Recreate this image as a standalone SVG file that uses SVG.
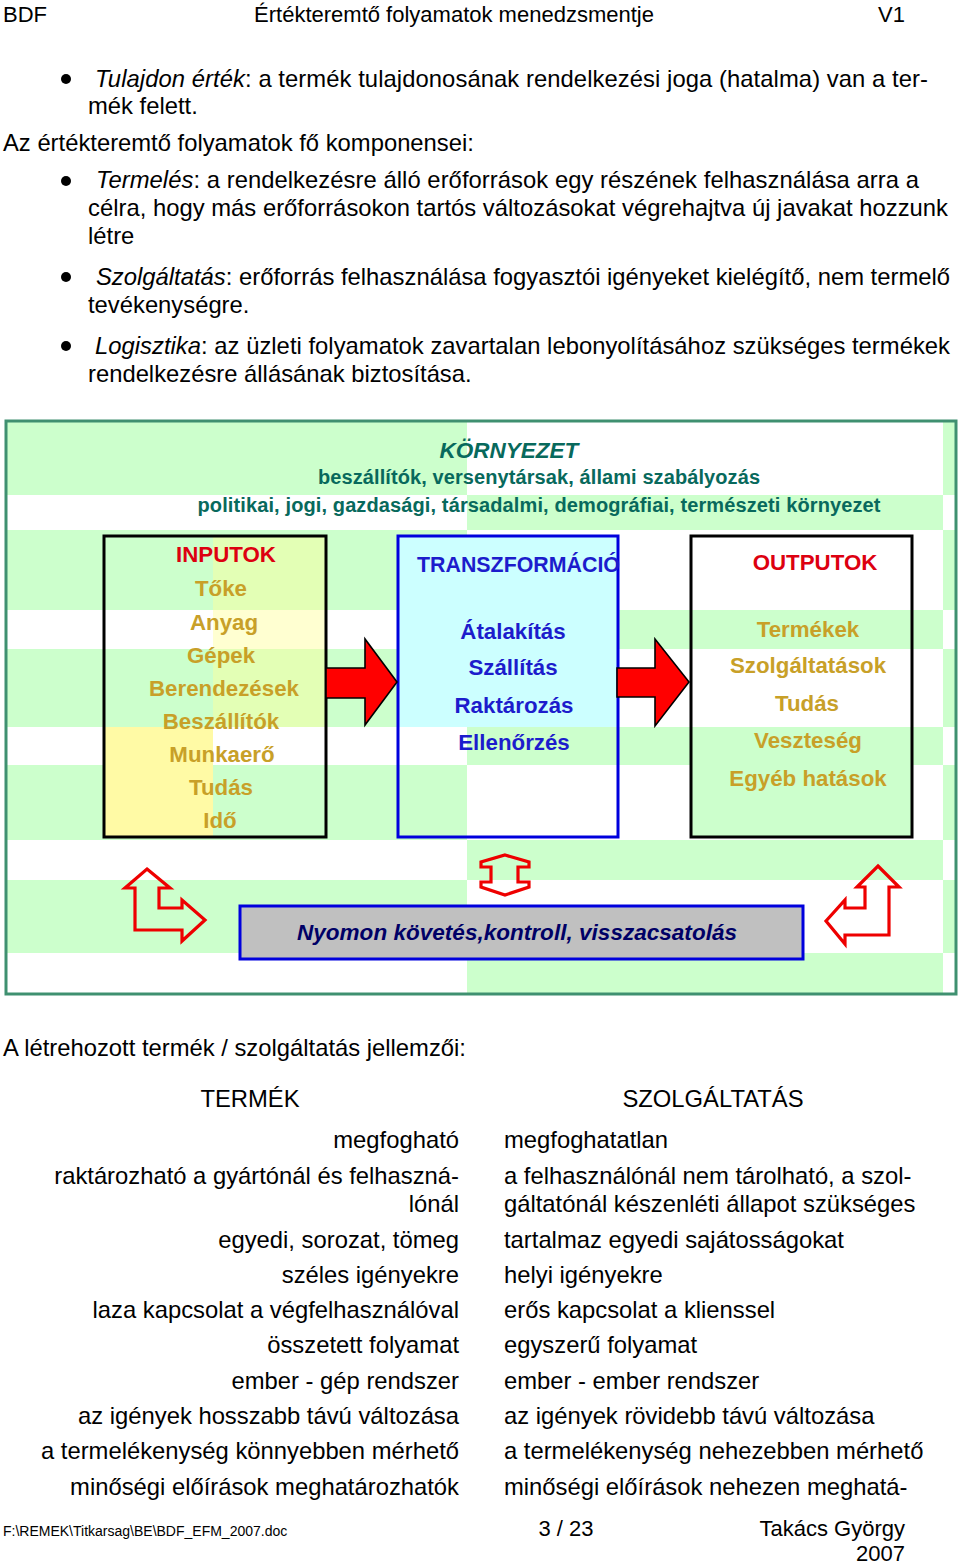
<svg xmlns="http://www.w3.org/2000/svg" width="960" height="1564" viewBox="0 0 960 1564">
<style>
.t{font-family:"Liberation Sans",Arial,sans-serif;font-size:23.8px;fill:#000}
.h{font-family:"Liberation Sans",Arial,sans-serif;font-size:22px;fill:#000}
.i{font-style:italic}
.env{font-family:"Liberation Sans",Arial,sans-serif;font-weight:bold;fill:#08695c;text-anchor:middle}
.bx{font-family:"Liberation Sans",Arial,sans-serif;font-weight:bold;font-size:22.3px;text-anchor:middle}
.bxs{font-family:"Liberation Sans",Arial,sans-serif;font-weight:bold;font-size:22.3px;text-anchor:start}
.red{fill:#dd0010}
.gold{fill:#c8a028}
.blu{fill:#1c1ccc}
.g{fill:#ccffcc}
.r{text-anchor:end}
.m{text-anchor:middle}
.barrow{fill:#ff0000;stroke:#000;stroke-width:1.6;stroke-linejoin:miter}
.farrow{fill:none;stroke:#ee0000;stroke-width:3.2;stroke-linejoin:miter}
</style>

<!-- Header -->
<g id="header">
<text class="h" x="3" y="22">BDF</text>
<text class="h m" x="454" y="22">Értékteremtő folyamatok menedzsmentje</text>
<text class="h" x="878" y="22">V1</text>
</g>

<!-- Body text -->
<g id="body">
<circle cx="66" cy="79" r="5"/>
<text class="t" x="95" y="87" textLength="833" lengthAdjust="spacing"><tspan class="i">Tulajdon érték</tspan>: a termék tulajdonosának rendelkezési joga (hatalma) van a ter-</text>
<text class="t" x="88" y="114">mék felett.</text>
<text class="t" x="3" y="151">Az értékteremtő folyamatok fő komponensei:</text>
<circle cx="66" cy="181" r="5"/>
<text class="t" x="96" y="188" textLength="823" lengthAdjust="spacing"><tspan class="i">Termelés</tspan>: a rendelkezésre álló erőforrások egy részének felhasználása arra a</text>
<text class="t" x="88" y="216" textLength="860" lengthAdjust="spacing">célra, hogy más erőforrásokon tartós változásokat végrehajtva új javakat hozzunk</text>
<text class="t" x="88" y="244">létre</text>
<circle cx="66" cy="277" r="5"/>
<text class="t" x="96" y="285" textLength="854" lengthAdjust="spacing"><tspan class="i">Szolgáltatás</tspan>: erőforrás felhasználása fogyasztói igényeket kielégítő, nem termelő</text>
<text class="t" x="88" y="313">tevékenységre.</text>
<circle cx="66" cy="346" r="5"/>
<text class="t" x="95" y="354" textLength="855" lengthAdjust="spacing"><tspan class="i">Logisztika</tspan>: az üzleti folyamatok zavartalan lebonyolításához szükséges termékek</text>
<text class="t" x="88" y="382">rendelkezésre állásának biztosítása.</text>
</g>

<!-- Diagram background (checkerboard) -->
<g id="diagram-bg">
<rect x="7" y="422" width="948" height="571" fill="#fff"/>
<rect class="g" x="7" y="422" width="460" height="73"/>
<rect class="g" x="943" y="422" width="12" height="73"/>
<rect class="g" x="467" y="495" width="476" height="35"/>
<rect class="g" x="7" y="530" width="460" height="80"/>
<rect class="g" x="943" y="530" width="12" height="80"/>
<rect class="g" x="467" y="610" width="476" height="39"/>
<rect class="g" x="7" y="649" width="460" height="78"/>
<rect class="g" x="943" y="649" width="12" height="78"/>
<rect class="g" x="467" y="727" width="476" height="38"/>
<rect class="g" x="7" y="765" width="460" height="75"/>
<rect class="g" x="943" y="765" width="12" height="75"/>
<rect class="g" x="467" y="840" width="476" height="40"/>
<rect class="g" x="7" y="880" width="460" height="73"/>
<rect class="g" x="943" y="880" width="12" height="73"/>
<rect class="g" x="467" y="953" width="476" height="40"/>
<rect x="6" y="421" width="950" height="573" fill="none" stroke="#3f9070" stroke-width="3"/>
</g>

<g id="environment">
<text class="env" x="509" y="458" font-size="22.5" font-style="italic">KÖRNYEZET</text>
<text class="env" x="539" y="484" font-size="20" textLength="442" lengthAdjust="spacing">beszállítók, versenytársak, állami szabályozás</text>
<text class="env" x="539" y="512" font-size="20" textLength="683" lengthAdjust="spacing">politikai, jogi, gazdasági, társadalmi, demográfiai, természeti környezet</text>
</g>

<g id="inputok">
<rect x="213" y="536" width="113" height="191" fill="#ffff99" opacity="0.45"/>
<rect x="104" y="727" width="109" height="110" fill="#fffaa5"/>
<rect x="104" y="536" width="222" height="301" fill="none" stroke="#000" stroke-width="3"/>
<text class="bx red" x="226" y="562">INPUTOK</text>
<text class="bx gold" x="221" y="596">Tőke</text>
<text class="bx gold" x="224" y="630">Anyag</text>
<text class="bx gold" x="221" y="663">Gépek</text>
<text class="bx gold" x="224" y="696">Berendezések</text>
<text class="bx gold" x="221" y="729">Beszállítók</text>
<text class="bx gold" x="222" y="762">Munkaerő</text>
<text class="bx gold" x="221" y="795">Tudás</text>
<text class="bx gold" x="220" y="828">Idő</text>
</g>

<g id="transzformacio">
<rect x="398" y="536" width="220" height="191" fill="#ccffff"/>
<rect x="398" y="536" width="220" height="301" fill="none" stroke="#0000dd" stroke-width="3"/>
<text class="bxs blu" x="417" y="572" textLength="203" lengthAdjust="spacingAndGlyphs">TRANSZFORMÁCIÓ</text>
<text class="bx blu" x="513" y="639">Átalakítás</text>
<text class="bx blu" x="513" y="675">Szállítás</text>
<text class="bx blu" x="514" y="713">Raktározás</text>
<text class="bx blu" x="514" y="750">Ellenőrzés</text>
</g>

<g id="outputok">
<rect x="691" y="765" width="221" height="72" fill="#ccffcc"/>
<rect x="691" y="536" width="221" height="301" fill="none" stroke="#000" stroke-width="3"/>
<text class="bx red" x="815" y="570">OUTPUTOK</text>
<text class="bx gold" x="808" y="637">Termékek</text>
<text class="bx gold" x="808" y="673">Szolgáltatások</text>
<text class="bx gold" x="807" y="711">Tudás</text>
<text class="bx gold" x="808" y="748">Veszteség</text>
<text class="bx gold" x="808" y="786">Egyéb hatások</text>
</g>

<g id="nyomon">
<rect x="240" y="906" width="563" height="53" fill="#c0c0c0" stroke="#0000dd" stroke-width="3"/>
<text x="517" y="940" font-family="Liberation Sans, Arial, sans-serif" font-size="22.5" font-weight="bold" font-style="italic" fill="#000066" text-anchor="middle" textLength="440" lengthAdjust="spacing">Nyomon követés,kontroll, visszacsatolás</text>
</g>

<g id="connectors">
<polygon class="barrow" points="326,668 365,668 365,639 397,682 365,725 365,698 326,698"/>
<polygon class="barrow" points="617,668 655,668 655,639 689,682 655,726 655,697 617,697"/>
<polygon class="farrow" points="147,869 170,888 159,888 159,908 182,908 182,900 205,920 182,941 182,930 135,930 135,888 125,888"/>
<polygon class="farrow" points="878,866 899,887 889,887 889,935 845,935 845,944 826,921 845,900 845,908 865,908 865,887 857,887"/>
<polygon class="farrow" points="505,855 529,862 529,867 518,867 518,882 529,882 529,887 505,895 481,887 481,882 491,882 491,867 481,867 481,862"/>
</g>

<!-- Table -->
<g id="table">
<text class="t" x="3" y="1056">A létrehozott termék / szolgáltatás jellemzői:</text>
<text class="t m" x="250" y="1107">TERMÉK</text>
<text class="t m" x="713" y="1107">SZOLGÁLTATÁS</text>
<text class="t r" x="459" y="1148">megfogható</text>
<text class="t" x="504" y="1148">megfoghatatlan</text>
<text class="t r" x="459" y="1184">raktározható a gyártónál és felhaszná-</text>
<text class="t" x="504" y="1184">a felhasználónál nem tárolható, a szol-</text>
<text class="t r" x="459" y="1212">lónál</text>
<text class="t" x="504" y="1212">gáltatónál készenléti állapot szükséges</text>
<text class="t r" x="459" y="1248">egyedi, sorozat, tömeg</text>
<text class="t" x="504" y="1248">tartalmaz egyedi sajátosságokat</text>
<text class="t r" x="459" y="1283">széles igényekre</text>
<text class="t" x="504" y="1283">helyi igényekre</text>
<text class="t r" x="459" y="1318">laza kapcsolat a végfelhasználóval</text>
<text class="t" x="504" y="1318">erős kapcsolat a klienssel</text>
<text class="t r" x="459" y="1353">összetett folyamat</text>
<text class="t" x="504" y="1353">egyszerű folyamat</text>
<text class="t r" x="459" y="1389">ember - gép rendszer</text>
<text class="t" x="504" y="1389">ember - ember rendszer</text>
<text class="t r" x="459" y="1424">az igények hosszabb távú változása</text>
<text class="t" x="504" y="1424">az igények rövidebb távú változása</text>
<text class="t r" x="459" y="1459">a termelékenység könnyebben mérhető</text>
<text class="t" x="504" y="1459">a termelékenység nehezebben mérhető</text>
<text class="t r" x="459" y="1495">minőségi előírások meghatározhatók</text>
<text class="t" x="504" y="1495">minőségi előírások nehezen meghatá-</text>
</g>

<!-- Footer -->
<g id="footer">
<text x="3" y="1536" font-family="Liberation Sans, Arial, sans-serif" font-size="14">F:\REMEK\Titkarsag\BE\BDF_EFM_2007.doc</text>
<text class="h m" x="566" y="1536">3 / 23</text>
<text class="h r" x="905" y="1536">Takács György</text>
<text class="h r" x="905" y="1561">2007</text>
</g>
</svg>
